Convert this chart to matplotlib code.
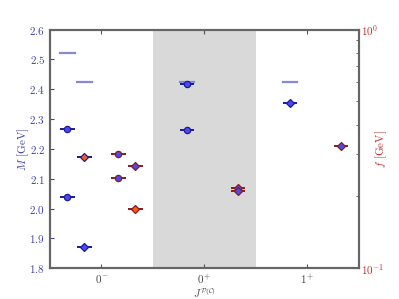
import matplotlib
matplotlib.use('Agg')
import matplotlib.pyplot as plt
from matplotlib.ticker import FormatStrFormatter, FixedLocator, NullFormatter, LogLocator

plt.rcParams['mathtext.fontset'] = 'cm'
plt.rcParams['font.family'] = 'serif'
plt.rcParams['font.serif'] = ['cmr10', 'DejaVu Serif']
plt.rcParams['axes.formatter.use_mathtext'] = True

# channels J^{P(C)} on the x axis
states = ['$0^{-}$', '$0^{+}$', '$1^{+}$']
state_pos = [0, 1, 2]

# masses (left axis)
mass_x = [-0.33, -0.33, -0.165, -0.165, 0.835, 0.835, 1.835]
mass = [2.266, 2.038, 2.174, 1.870, 2.416, 2.265, 2.355]
mass_marker = ['o', 'o', 'D', 'D', 'o', 'o', 'D']
mass_fill = ['b', 'b', 'o', 'b', 'b', 'b', 'b']

# reference masses, drawn as plain bars
ref_x = [-0.33, -0.165, 0.835, 1.835]
ref_mass = [2.520, 2.425, 2.425, 2.425]

# decay constants (right axis, log)
f_x = [0.165, 0.165, 0.33, 0.33, 1.33, 1.33, 2.33]
fval = [0.302, 0.240, 0.268, 0.177, 0.216, 0.211, 0.325]
f_marker = ['o', 'o', 'D', 'D', 'D', 'D', 'D']
f_fill = ['b', 'b', 'b', 'o', 'b', 'b', 'b']

blue_txt = '#4040a8'
red_txt = '#c0302a'
fills = {'b': '#4a4af0', 'o': '#ff5a10'}

fig = plt.figure(figsize=(3.99, 2.99), dpi=100)
ax = fig.add_axes([0.1253, 0.1027, 0.7732, 0.7986])
ax2 = ax.twinx()

ax.axvspan(0.5, 1.5, color='#d9d9d9', lw=0, zorder=0)

hw = 0.07
for x, y in zip(ref_x, ref_mass):
    ax.plot([x - hw, x + hw], [y, y], color='#8888d8', lw=1.6, zorder=2)

for x, y, m, c in zip(mass_x, mass, mass_marker, mass_fill):
    ax.errorbar(x, y, xerr=hw, fmt=m, ms=4.5 if m == 'o' else 3.8,
                mfc=fills[c], mec='#1a1a9a', mew=0.9,
                ecolor='#1a1a9a', elinewidth=1.4, capsize=0, zorder=3)

for x, y, m, c in zip(f_x, fval, f_marker, f_fill):
    ax2.errorbar(x, y, xerr=hw, fmt=m, ms=4.5 if m == 'o' else 3.8,
                 mfc=fills[c], mec='#8a1a1a', mew=0.9,
                 ecolor='#8a1a1a', elinewidth=1.4, capsize=0, zorder=3)

ax.set_xlim(-0.5, 2.5)
ax.set_ylim(1.8, 2.6)
ax2.set_yscale('log')
ax2.set_ylim(0.1, 1.0)

ax.xaxis.set_major_locator(FixedLocator(state_pos))
ax.set_xticklabels(states, fontsize=8, color='#444444')
ax.set_xlabel(r'$J^{\mathcal{P}(\mathcal{C})}$', fontsize=7.5, color='#444444', labelpad=-1)
ax.yaxis.set_major_formatter(FormatStrFormatter('$%.1f$'))
ax.set_yticks([1.8, 1.9, 2.0, 2.1, 2.2, 2.3, 2.4, 2.5, 2.6])
ax.tick_params(axis='y', colors=blue_txt, labelsize=8, direction='in', length=3)
ax.tick_params(axis='x', direction='in', length=3, top=True, color='#555555')
ax.set_ylabel('$M$ [GeV]', color=blue_txt, fontsize=8, labelpad=-1)

ax2.yaxis.set_major_locator(LogLocator(base=10, numticks=5))
ax2.yaxis.set_minor_locator(LogLocator(base=10, subs=range(2, 10), numticks=12))
ax2.yaxis.set_minor_formatter(NullFormatter())
ax2.tick_params(axis='y', which='both', colors=red_txt, labelsize=8, direction='in')
ax2.tick_params(axis='y', which='major', length=4, pad=2)
ax2.tick_params(axis='y', which='minor', length=2, color='#555555')
ax2.set_ylabel('$f$ [GeV]', color=red_txt, fontsize=8, labelpad=-8)

for a in (ax, ax2):
    for s in a.spines.values():
        s.set_color('#666666')
        s.set_linewidth(1.5)

fig.savefig('out.png', dpi=100)
